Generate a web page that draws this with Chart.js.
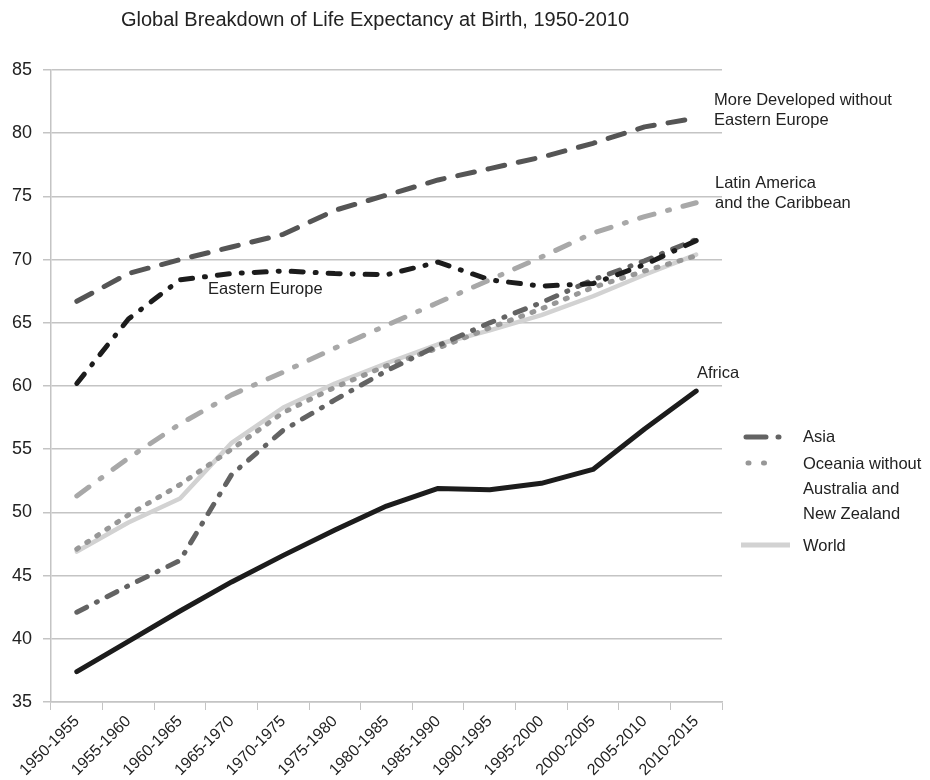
<!DOCTYPE html>
<html>
<head>
<meta charset="utf-8">
<script src="https://cdn.jsdelivr.net/npm/chart.js@4.4.1/dist/chart.umd.min.js"></script>
<style>
  body { margin: 0; background: #fff; }
  #lifeChart { display: block; }
</style>
</head>
<body>
<canvas id="lifeChart" width="930" height="780"></canvas>
<script>
const periods = ['1950-1955', '1955-1960', '1960-1965', '1965-1970', '1970-1975', '1975-1980', '1980-1985',
    '1985-1990', '1990-1995', '1995-2000', '2000-2005', '2005-2010', '2010-2015'];

const moreDeveloped = [66.7, 68.9, 70.0, 71.0, 72.0, 73.9, 75.1, 76.3, 77.2, 78.1, 79.2, 80.5, 81.2];
const latinAmerica = [51.3, 54.3, 57.0, 59.3, 61.1, 63.0, 64.8, 66.6, 68.4, 70.2, 72.1, 73.4, 74.5];
const easternEurope = [60.2, 65.3, 68.4, 68.9, 69.1, 68.9, 68.8, 69.8, 68.4, 67.9, 68.1, 69.6, 71.5];
const asia = [42.1, 44.2, 46.2, 53.0, 56.5, 58.9, 61.2, 63.2, 65.0, 66.6, 68.4, 69.9, 71.6];
const oceania = [47.1, 49.8, 52.2, 55.0, 57.9, 59.9, 61.6, 63.0, 64.6, 66.1, 67.8, 69.1, 70.3];
const world = [46.9, 49.2, 51.1, 55.5, 58.3, 60.2, 61.8, 63.3, 64.4, 65.6, 67.1, 68.8, 70.4];
const africa = [37.4, 39.8, 42.2, 44.5, 46.6, 48.6, 50.5, 51.9, 51.8, 52.3, 53.4, 56.6, 59.6];

const yTicks = [35, 40, 45, 50, 55, 60, 65, 70, 75, 80, 85];

const FONT = 'Liberation Sans, Arial, sans-serif';
const GRID = '#c4c4c4';

function line(label, data, color, width, dash) {
    return {
        label: label,
        data: data,
        borderColor: color,
        borderWidth: width,
        borderDash: dash,
        borderCapStyle: 'round',
        borderJoinStyle: 'round',
        pointRadius: 0,
        tension: 0,
        fill: false
    };
}

// text labels, title and the small legend are drawn by hand
const annotations = {
    id: 'annotations',
    afterDraw(chart) {
        const c = chart.ctx;
        c.save();
        c.fillStyle = '#222';
        c.textBaseline = 'middle';
        c.textAlign = 'center';
        c.font = '20px ' + FONT;
        c.fillText('Global Breakdown of Life Expectancy at Birth, 1950-2010', 375, 20);

        c.textAlign = 'left';
        c.font = '16.5px ' + FONT;
        c.fillText('More Developed without', 714, 100);
        c.fillText('Eastern Europe', 714, 120);
        c.fillText('Latin America', 715, 183);
        c.fillText('and the Caribbean', 715, 203);
        c.fillText('Eastern Europe', 208, 289);
        c.fillText('Africa', 697, 373);

        const sets = chart.data.datasets;
        const sample = (color, width, dash, cap, x1, x2, y) => {
            c.beginPath();
            c.strokeStyle = color;
            c.lineWidth = width;
            c.lineCap = cap;
            c.setLineDash(dash);
            c.moveTo(x1, y);
            c.lineTo(x2, y);
            c.stroke();
        };
        // Asia: long dash then dot
        sample(sets[3].borderColor, 5, [20, 12, 1, 20], 'round', 746, 780, 437);
        // Oceania: three dots
        sample(sets[4].borderColor, 5, [1, 14.5], 'round', 748, 779, 463);
        // World: plain band
        sample(sets[5].borderColor, 5, [], 'butt', 741, 790, 545);

        c.fillStyle = '#222';
        c.fillText('Asia', 803, 437);
        c.fillText('Oceania without', 803, 464);
        c.fillText('Australia and', 803, 489);
        c.fillText('New Zealand', 803, 514);
        c.fillText('World', 803, 546);
        c.restore();
    }
};

const ctx = document.getElementById('lifeChart').getContext('2d');
const chart = new Chart(ctx, {
    type: 'line',
    data: {
        labels: periods,
        datasets: [
            line('More Developed without Eastern Europe', moreDeveloped, '#555555', 5, [17, 14]),
            line('Latin America and the Caribbean', latinAmerica, '#a8a8a8', 5, [15, 14, 2, 14]),
            line('Eastern Europe', easternEurope, '#1c1c1c', 5, [12, 12, 1, 12]),
            line('Asia', asia, '#636363', 5, [11, 11, 1, 11]),
            line('Oceania without Australia and New Zealand', oceania, '#979797', 5, [2, 10]),
            line('World', world, '#d2d2d2', 4.5, []),
            line('Africa', africa, '#1c1c1c', 5, [])
        ]
    },
    options: {
        responsive: false,
        animation: false,
        layout: { padding: { top: 70, right: 208, left: 0, bottom: 0 } },
        plugins: {
            legend: { display: false },
            title: { display: false },
            tooltip: { enabled: false }
        },
        scales: {
            x: {
                offset: true,
                afterFit: (s) => { s.height = 78; },
                grid: {
                    offset: true,
                    drawOnChartArea: false,
                    drawTicks: true,
                    tickLength: 8,
                    color: GRID
                },
                border: { color: GRID, width: 1.5 },
                ticks: {
                    autoSkip: false,
                    minRotation: 45,
                    maxRotation: 45,
                    padding: 2,
                    color: '#222',
                    font: { family: FONT, size: 16 }
                }
            },
            y: {
                min: 35,
                max: 85,
                afterFit: (s) => { s.width = 51; },
                afterBuildTicks: (s) => { s.ticks = yTicks.map(v => ({ value: v })); },
                grid: {
                    color: GRID,
                    lineWidth: 1.5,
                    tickLength: 8
                },
                border: { color: GRID, width: 1.5 },
                ticks: {
                    padding: 11,
                    color: '#222',
                    font: { family: FONT, size: 18 }
                }
            }
        }
    },
    plugins: [annotations]
});
</script>
</body>
</html>
